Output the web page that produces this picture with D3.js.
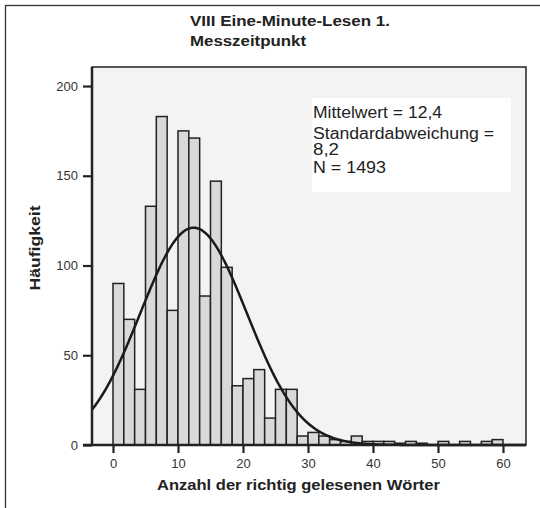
<!DOCTYPE html>
<html><head><meta charset="utf-8">
<script src="https://cdn.jsdelivr.net/npm/d3@7"></script>
<style>body{margin:0;background:#fff;} text{font-family:"Liberation Sans",Arial,sans-serif;}</style>
</head><body>
<svg id="c" width="540" height="508"></svg>
<script>
// ---- data ----
const binWidth = 10 / 6;
const counts = [90,70,31,133,183,75,175,171,83,147,99,33,37,42,15,31,31,
                5,7,5,3,2,5,2,2,2,1,2,1,0,2,0,2,0,2,3];
const xTicks = [0,10,20,30,40,50,60];
const yTicks = [0,50,100,150,200];
const stats = {mean:12.4, sd:8.2, n:1493};
const titleLines = ["VIII Eine-Minute-Lesen 1.", "Messzeitpunkt"];
const legendLines = ["Mittelwert = 12,4", "Standardabweichung =", "8,2", "N = 1493"];
const xLabel = "Anzahl der richtig gelesenen Wörter";
const yLabel = "Häufigkeit";

const bins = counts.map((c,i)=>({x0:i*binWidth, x1:(i+1)*binWidth, c}));

const svg = d3.select("#c");
const L=92, R=526, T=67, B=445;
const x = d3.scaleLinear().domain([-3.23, 63.54]).range([L,R]);
const y = d3.scaleLinear().domain([0, 210.6]).range([B,T]);

// outer frame
svg.append("rect").attr("x",5.5).attr("y",5.5).attr("width",560).attr("height",560)
  .attr("fill","#fff").attr("stroke","#333").attr("stroke-width",1.3);

// title
const tw=[200,116];
titleLines.forEach((t,i)=>{
  svg.append("text").attr("x",190).attr("y",26+i*20).text(t)
    .attr("font-size",14.5).attr("font-weight","bold").attr("fill","#222")
    .attr("textLength",tw[i]).attr("lengthAdjust","spacingAndGlyphs");
});

// plot bg
svg.append("rect").attr("x",L).attr("y",T).attr("width",R-L).attr("height",B-T)
  .attr("fill","#f2f3f2").attr("stroke","#222").attr("stroke-width",1.5);

// bars
svg.append("g").selectAll("rect").data(bins).join("rect")
  .attr("x",d=>x(d.x0)).attr("width",d=>x(d.x1)-x(d.x0))
  .attr("y",d=>y(d.c)).attr("height",d=>y(0)-y(d.c))
  .attr("fill","#d9d9d9").attr("stroke","#222").attr("stroke-width",1.5);

// normal curve
const peak = stats.n*binWidth/(stats.sd*Math.sqrt(2*Math.PI));
const xs = d3.range(-3.23, 63.54, 0.1);
const line = d3.line().x(d=>x(d)).y(d=>y(peak*Math.exp(-((d-stats.mean)**2)/(2*stats.sd*stats.sd))));
svg.append("path").datum(xs).attr("d",line).attr("fill","none")
  .attr("stroke","#1a1a1a").attr("stroke-width",2.5);

// axes
const xAxis = d3.axisBottom(x).tickValues(xTicks).tickSize(8).tickPadding(6);
const gx = svg.append("g").attr("transform",`translate(0,${B})`).call(xAxis);
const yAxis = d3.axisLeft(y).tickValues(yTicks).tickSize(9).tickPadding(5);
const gy = svg.append("g").attr("transform",`translate(${L},0)`).call(yAxis);
[gx,gy].forEach(g=>{
  g.select(".domain").remove();
  g.selectAll(".tick line").attr("stroke","#222").attr("stroke-width",2.2);
  g.selectAll(".tick text").attr("font-size",13).attr("fill","#333")
    .attr("font-family","'Liberation Sans',Arial,sans-serif");
});
svg.append("line").attr("x1",83).attr("x2",R).attr("y1",B).attr("y2",B).attr("stroke","#222").attr("stroke-width",2.5);
svg.append("line").attr("x1",L).attr("x2",L).attr("y1",T).attr("y2",B).attr("stroke","#222").attr("stroke-width",2.5);

// legend
svg.append("rect").attr("x",312).attr("y",98).attr("width",199).attr("height",94).attr("fill","#fff");
const lw=[129,181,26,73], ly=[118,139,155,173];
legendLines.forEach((t,i)=>{
  svg.append("text").attr("x",313).attr("y",ly[i]).text(t)
    .attr("font-size",16).attr("fill","#222")
    .attr("textLength",lw[i]).attr("lengthAdjust","spacingAndGlyphs");
});

// axis labels
svg.append("text").attr("x",157).attr("y",490)
  .attr("font-size",15).attr("font-weight","bold").attr("fill","#222")
  .attr("textLength",283).attr("lengthAdjust","spacingAndGlyphs").text(xLabel);
svg.append("text").attr("transform",`translate(40,248) rotate(-90)`).attr("text-anchor","middle")
  .attr("font-size",15).attr("font-weight","bold").attr("fill","#222")
  .attr("textLength",85).attr("lengthAdjust","spacingAndGlyphs").text(yLabel);
</script>
</body></html>
